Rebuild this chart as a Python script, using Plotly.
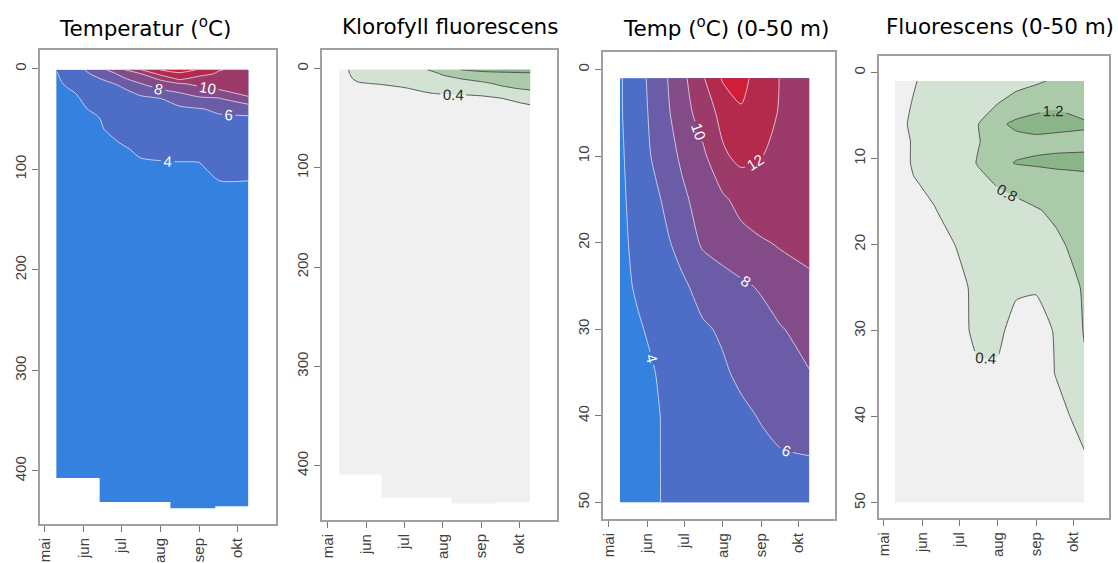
import plotly.graph_objects as go

# ---------------------------------------------------------------- data
# sampling dates as day of year
days = [130, 145, 162, 180, 197, 213, 228, 244, 260, 283]
month_ticks = [121, 152, 182, 213, 244, 274]
month_labels = ["mai", "jun", "jul", "aug", "sep", "okt"]

# temperature, whole water column (rows = depth)
depth_full = [1, 5, 10, 15, 20, 30, 40, 50, 60, 80, 100, 120, 150, 200, 300, 441]
temp_full = [
    [4.05, 5.2, 7.0, 9.3, 11.9, 14.1, 15.0, 13.8, 12.1, 11.4],
    [3.9, 4.9, 6.5, 8.2, 9.9, 12.6, 13.6, 12.7, 11.7, 11.3],
    [3.85, 4.6, 5.7, 7.5, 8.9, 10.3, 12.4, 11.2, 11.2, 11.1],
    [3.8, 4.35, 5.2, 6.2, 7.9, 9.2, 9.8, 10.4, 10.8, 10.9],
    [3.8, 4.1, 4.9, 5.7, 6.8, 8.1, 8.6, 9.6, 10.2, 10.6],
    [3.75, 3.85, 4.5, 5.2, 5.6, 5.9, 7.0, 7.6, 7.8, 9.8],
    [3.7, 3.8, 4.15, 4.8, 5.2, 5.4, 5.6, 5.9, 6.3, 6.4],
    [3.7, 3.75, 3.9, 4.5, 4.9, 5.1, 5.2, 5.4, 5.7, 5.8],
    [3.7, 3.75, 3.85, 4.3, 4.6, 4.8, 4.9, 5.0, 5.3, 5.4],
    [3.65, 3.7, 3.8, 3.85, 4.15, 4.2, 4.25, 4.2, 4.6, 4.7],
    [3.6, 3.65, 3.7, 3.7, 3.8, 3.85, 3.85, 3.9, 4.2, 4.2],
    [3.6, 3.6, 3.65, 3.65, 3.7, 3.7, 3.7, 3.75, 3.85, 3.85],
    [3.55, 3.55, 3.6, 3.6, 3.6, 3.6, 3.6, 3.6, 3.7, 3.7],
    [3.5, 3.5, 3.5, 3.5, 3.5, 3.5, 3.5, 3.5, 3.55, 3.55],
    [3.45, 3.45, 3.45, 3.45, 3.45, 3.45, 3.45, 3.45, 3.45, 3.45],
    [3.4, 3.4, 3.4, 3.4, 3.4, 3.4, 3.4, 3.4, 3.4, 3.4],
]

# chlorophyll fluorescence, whole water column
fl_depth_full = [1, 5, 10, 15, 20, 25, 30, 35, 40, 60, 100, 200, 300, 441]
fluor_full = [
    [0.3, 0.5, 0.55, 0.6, 0.75, 1.0, 1.22, 1.3, 1.3, 1.3],
    [0.3, 0.48, 0.5, 0.52, 0.6, 0.85, 1.0, 1.1, 1.15, 1.18],
    [0.28, 0.45, 0.47, 0.5, 0.52, 0.7, 0.82, 0.9, 0.95, 1.0],
    [0.2, 0.38, 0.42, 0.46, 0.48, 0.5, 0.62, 0.75, 0.85, 0.9],
    [0.2, 0.25, 0.3, 0.38, 0.44, 0.46, 0.5, 0.6, 0.75, 0.85],
    [0.2, 0.2, 0.25, 0.3, 0.38, 0.42, 0.42, 0.45, 0.55, 0.7],
    [0.2, 0.2, 0.2, 0.25, 0.3, 0.3, 0.35, 0.35, 0.4, 0.55],
    [0.2, 0.2, 0.2, 0.2, 0.25, 0.25, 0.3, 0.3, 0.35, 0.42],
    [0.2, 0.2, 0.2, 0.2, 0.2, 0.2, 0.25, 0.25, 0.3, 0.35],
    [0.15, 0.15, 0.15, 0.15, 0.15, 0.15, 0.15, 0.15, 0.15, 0.15],
    [0.12, 0.12, 0.12, 0.12, 0.12, 0.12, 0.12, 0.12, 0.12, 0.12],
    [0.1, 0.1, 0.1, 0.1, 0.1, 0.1, 0.1, 0.1, 0.1, 0.1],
    [0.1, 0.1, 0.1, 0.1, 0.1, 0.1, 0.1, 0.1, 0.1, 0.1],
    [0.1, 0.1, 0.1, 0.1, 0.1, 0.1, 0.1, 0.1, 0.1, 0.1],
]

# temperature, upper 50 m
depth_top = [1, 5, 10, 15, 20, 25, 30, 35, 40, 45, 50]
temp_top = [
    [3.8, 5.3, 7.2, 9.4, 11.8, 14.2, 14.6, 13.1, 11.9, 11.0],
    [3.8, 5.2, 7.0, 9.1, 10.9, 12.6, 13.8, 12.9, 11.8, 11.0],
    [3.7, 5.0, 6.7, 8.3, 9.6, 11.7, 12.5, 12.05, 11.4, 10.9],
    [3.6, 4.8, 5.9, 7.6, 8.8, 9.7, 10.6, 11.3, 11.2, 10.8],
    [3.5, 4.6, 5.4, 6.6, 8.3, 8.9, 9.4, 9.8, 10.2, 10.6],
    [3.4, 4.3, 5.0, 5.7, 6.6, 7.2, 7.7, 8.2, 9.0, 9.6],
    [3.3, 3.8, 4.6, 5.3, 5.8, 6.2, 6.8, 7.3, 7.9, 8.6],
    [3.2, 3.6, 4.1, 4.9, 5.3, 5.8, 6.3, 6.8, 7.3, 7.95],
    [3.2, 3.5, 3.98, 4.6, 5.0, 5.3, 5.7, 6.1, 6.6, 7.2],
    [3.2, 3.5, 3.98, 4.5, 4.8, 5.1, 5.4, 5.6, 5.8, 5.9],
    [3.2, 3.5, 3.98, 4.4, 4.7, 4.9, 5.1, 5.3, 5.5, 5.7],
]

# fluorescence, upper 50 m
fl_depth_top = [1, 4, 6, 8, 10.5, 13, 16, 20, 25, 30, 35, 40, 45, 50]
fluor_top = [
    [0.3, 0.38, 0.5, 0.55, 0.6, 0.65, 0.7, 0.75, 0.85, 0.95],
    [0.3, 0.42, 0.5, 0.55, 0.7, 0.82, 0.95, 1.1, 1.18, 1.05],
    [0.3, 0.45, 0.5, 0.6, 0.79, 1.1, 1.3, 1.35, 1.3, 1.25],
    [0.3, 0.42, 0.5, 0.6, 0.78, 0.95, 1.05, 1.1, 1.1, 1.1],
    [0.25, 0.43, 0.5, 0.6, 0.82, 1.1, 1.22, 1.25, 1.28, 1.3],
    [0.25, 0.38, 0.45, 0.55, 0.7, 0.82, 0.9, 0.95, 1.0, 1.05],
    [0.2, 0.3, 0.39, 0.5, 0.6, 0.65, 0.7, 0.78, 0.85, 0.95],
    [0.2, 0.25, 0.3, 0.41, 0.5, 0.55, 0.6, 0.65, 0.75, 0.9],
    [0.2, 0.2, 0.25, 0.33, 0.46, 0.46, 0.44, 0.42, 0.5, 0.85],
    [0.2, 0.2, 0.2, 0.3, 0.47, 0.46, 0.3, 0.3, 0.42, 0.82],
    [0.2, 0.2, 0.2, 0.25, 0.36, 0.36, 0.25, 0.25, 0.41, 0.75],
    [0.2, 0.2, 0.2, 0.2, 0.25, 0.25, 0.2, 0.2, 0.3, 0.5],
    [0.2, 0.2, 0.2, 0.2, 0.2, 0.2, 0.2, 0.2, 0.25, 0.37],
    [0.2, 0.2, 0.2, 0.2, 0.2, 0.2, 0.2, 0.2, 0.2, 0.2],
]

# deepest sampled depth per cruise period (step edges in day of year)
temp_bottom_edges = [130, 164.6, 220.9, 256.6, 283]
temp_bottom_depth = [407, 431, 437, 435]
fluor_bottom_edges = [130, 164, 219.8, 255.5, 283]
fluor_bottom_depth = [409, 432, 438, 437]

titles = ["Temperatur (<sup>o</sup>C)", "Klorofyll fluorescens",
          "Temp (<sup>o</sup>C) (0-50 m)", "Fluorescens (0-50 m)"]

# ---------------------------------------------------------------- styling
temp_colors = ["#3481E0", "#4D6DC7", "#6A5CA6", "#834B88",
               "#9C3B69", "#B32A4C", "#D21E35"]
fluor_colors = ["#F0F0F0", "#D3E3D3", "#AACAAA", "#89B589"]

W, H = 1118, 563
# plot frames in pixels: (left, right, top, bottom)
frames = [(36, 273, 50, 528), (319, 555, 50, 524),
          (601, 834, 52, 523), (878, 1109, 56, 522)]
xranges = [(117.0, 305.0), (116.2, 304.3), (116.2, 303.8), (117.0, 303.0)]
yranges = [(453, -19), (455, -19), (51.95, -2.06), (51.8, -1.96)]
ytick_sets = [[0, 100, 200, 300, 400], [0, 100, 200, 300, 400],
              [0, 10, 20, 30, 40, 50], [0, 10, 20, 30, 40, 50]]
title_x = [142, 448, 725, 1000]


def stepped_scale(colors):
    n = len(colors) - 1
    return [[i / n, c] for i, c in enumerate(colors)]


def axis_ids(ax):
    sfx = "" if ax == 1 else str(ax)
    return "x" + sfx, "y" + sfx


def contour(x, y, z, levels, colors, line_color, label_color, ax, smooth):
    xa, ya = axis_ids(ax)
    return go.Contour(
        x=x, y=y, z=z,
        contours=dict(start=levels[0], end=levels[1], size=levels[2],
                      coloring="fill", showlabels=True,
                      labelfont=dict(family="Liberation Sans", size=15,
                                     color=label_color)),
        colorscale=stepped_scale(colors),
        line=dict(color=line_color, width=0.9, smoothing=smooth),
        showscale=False, hoverinfo="skip", xaxis=xa, yaxis=ya,
    )


def seabed(edges, depths, floor, ax):
    xa, ya = axis_ids(ax)
    xs, ys = [], []
    for i, d in enumerate(depths):
        xs += [edges[i], edges[i + 1]]
        ys += [d, d]
    xs += [edges[-1] + 0.6, edges[-1] + 0.6, edges[0] - 0.6, edges[0] - 0.6]
    ys += [depths[-1], floor, floor, depths[0]]
    return go.Scatter(
        x=xs, y=ys, fill="toself", fillcolor="white", mode="lines",
        line=dict(width=0, color="white"), showlegend=False, hoverinfo="skip",
        xaxis=xa, yaxis=ya,
    )


temp_line = "rgba(232,232,250,0.85)"
fluor_line = "#4a4a4a"

fig = go.Figure()
fig.add_trace(contour(days, depth_full, temp_full, (4, 14, 2), temp_colors,
                      temp_line, "white", 1, 0.7))
fig.add_trace(seabed(temp_bottom_edges, temp_bottom_depth, 443, 1))
fig.add_trace(contour(days, fl_depth_full, fluor_full, (0.4, 1.2, 0.4),
                      fluor_colors, fluor_line, "#2a2a2a", 2, 0.4))
fig.add_trace(seabed(fluor_bottom_edges, fluor_bottom_depth, 443, 2))
fig.add_trace(contour(days, depth_top, temp_top, (4, 14, 2), temp_colors,
                      temp_line, "white", 3, 0.7))
fig.add_trace(contour(days, fl_depth_top, fluor_top, (0.4, 1.2, 0.4),
                      fluor_colors, fluor_line, "#2a2a2a", 4, 0.4))

layout = dict(
    width=W, height=H, margin=dict(l=0, r=0, t=0, b=0),
    paper_bgcolor="white", plot_bgcolor="white", showlegend=False,
)
tickfont = dict(family="Liberation Sans", size=15, color="#404040")
for i in range(4):
    l, r, t, b = frames[i]
    sx = "" if i == 0 else str(i + 1)
    layout["xaxis" + sx] = dict(
        domain=[l / W, r / W], range=list(xranges[i]),
        anchor="y" + sx, tickvals=month_ticks, ticktext=month_labels,
        tickangle=-90, ticks="outside", ticklen=6, tickwidth=1,
        tickcolor="#777", showline=True, linecolor="#a0a0a0", linewidth=1.5,
        mirror=True, showgrid=False, zeroline=False, tickfont=tickfont,
    )
    layout["yaxis" + sx] = dict(
        domain=[1 - b / H, 1 - t / H], range=list(yranges[i]),
        anchor="x" + sx, tickvals=ytick_sets[i], tickangle=-90,
        ticks="outside", ticklen=6, tickwidth=1, tickcolor="#777",
        showline=True, linecolor="#a0a0a0", linewidth=1.5, mirror=True,
        showgrid=False, zeroline=False, tickfont=tickfont,
    )
layout["annotations"] = [
    dict(text=titles[i], x=title_x[i] / W, y=1 - 27 / H, xref="paper",
         yref="paper", xanchor="center", yanchor="middle", showarrow=False,
         font=dict(family="DejaVu Sans", size=21.5, color="black"))
    for i in range(4)
]
fig.update_layout(**layout)
fig.write_html("out.html")
